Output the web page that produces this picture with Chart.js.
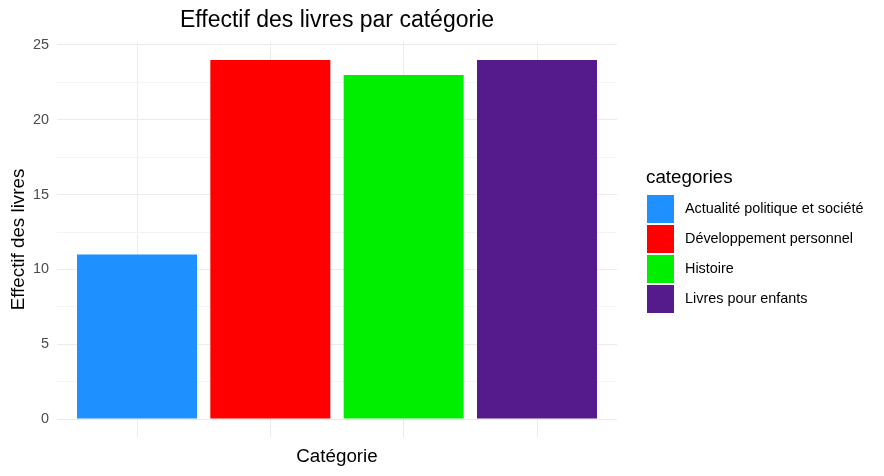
<!DOCTYPE html>
<html>
<head>
<meta charset="utf-8">
<script src="https://cdn.jsdelivr.net/npm/chart.js@4.4.1/dist/chart.umd.min.js"></script>
<style>
  html, body { margin: 0; padding: 0; background: #ffffff; }
  #wrap { width: 884px; height: 476px; }
</style>
</head>
<body>
<div id="wrap"><canvas id="c" width="884" height="476"></canvas></div>
<script>
const categories = ["Actualité politique et société", "Développement personnel", "Histoire", "Livres pour enfants"];
const counts = [11, 24, 23, 24];
const barColors = ["#1E90FF", "#FF0000", "#00EE00", "#551A8B"];
const yTickValues = [0, 5, 10, 15, 20, 25];
const yMinorValues = [2.5, 7.5, 12.5, 17.5, 22.5];
const xPositions = [1, 2, 3, 4];

const FONT = "'Liberation Sans', Arial, 'DejaVu Sans', sans-serif";

const legendPlugin = {
  id: 'ggLegend',
  afterDraw(chart) {
    const ctx = chart.ctx;
    ctx.save();
    ctx.fillStyle = '#000000';
    ctx.font = '18.8px ' + FONT;
    ctx.textAlign = 'left';
    ctx.textBaseline = 'middle';
    ctx.fillText('categories', 646, 178);
    const ds = chart.data.datasets[0];
    chart.data.labels.forEach((lab, i) => {
      ctx.fillStyle = ds.backgroundColor[i];
      ctx.fillRect(647, 195 + 30 * i, 27, 28);
      ctx.fillStyle = '#000000';
      ctx.font = '14.4px ' + FONT;
      ctx.fillText(lab, 685, 209.5 + 30 * i);
    });
    ctx.restore();
  }
};

new Chart(document.getElementById('c'), {
  type: 'bar',
  data: {
    labels: categories,
    datasets: [{
      label: 'Effectif',
      data: counts.map((v, i) => ({ x: xPositions[i], y: v })),
      backgroundColor: barColors,
      borderWidth: 0,
      barPercentage: 0.9,
      categoryPercentage: 1.0
    }]
  },
  options: {
    responsive: false,
    animation: false,
    devicePixelRatio: 1,
    layout: { padding: { left: 0, right: 267, top: 0, bottom: 0 } },
    plugins: {
      legend: { display: false },
      tooltip: { enabled: false },
      title: {
        display: true,
        text: 'Effectif des livres par catégorie',
        color: '#000000',
        fullSize: false,
        font: { family: FONT, size: 23, weight: 'normal' },
        padding: { top: 7, bottom: 7.4 }
      }
    },
    scales: {
      x: {
        type: 'linear',
        min: 0.4,
        max: 4.6,
        offset: false,
        afterBuildTicks(scale) { scale.ticks = xPositions.map(v => ({ value: v })); },
        afterFit(scale) { scale.height = 39; },
        ticks: { display: false },
        grid: { color: '#EBEBEB', lineWidth: 1, drawTicks: false, offset: false },
        border: { display: false },
        title: {
          display: true,
          text: 'Catégorie',
          color: '#000000',
          font: { family: FONT, size: 18.8 },
          padding: { top: 0, bottom: 7.5 }
        }
      },
      y: {
        type: 'linear',
        min: -1.2,
        max: 25.2,
        afterBuildTicks(scale) {
          const all = yTickValues.concat(yMinorValues).sort((a, b) => a - b);
          scale.ticks = all.map(v => ({ value: v }));
        },
        afterFit(scale) { scale.width = 57; },
        ticks: {
          color: '#4D4D4D',
          font: { family: FONT, size: 14.4 },
          padding: 8,
          autoSkip: false,
          callback: (v) => (yTickValues.includes(v) ? String(v) : '')
        },
        grid: {
          drawTicks: false,
          color: (c) => (c.tick && yMinorValues.includes(c.tick.value) ? '#F3F3F3' : '#EBEBEB'),
          lineWidth: 1
        },
        border: { display: false },
        title: {
          display: true,
          text: 'Effectif des livres',
          color: '#000000',
          font: { family: FONT, size: 18.8 },
          padding: { top: 7.5, bottom: 0 }
        }
      }
    }
  },
  plugins: [legendPlugin]
});
</script>
</body>
</html>
